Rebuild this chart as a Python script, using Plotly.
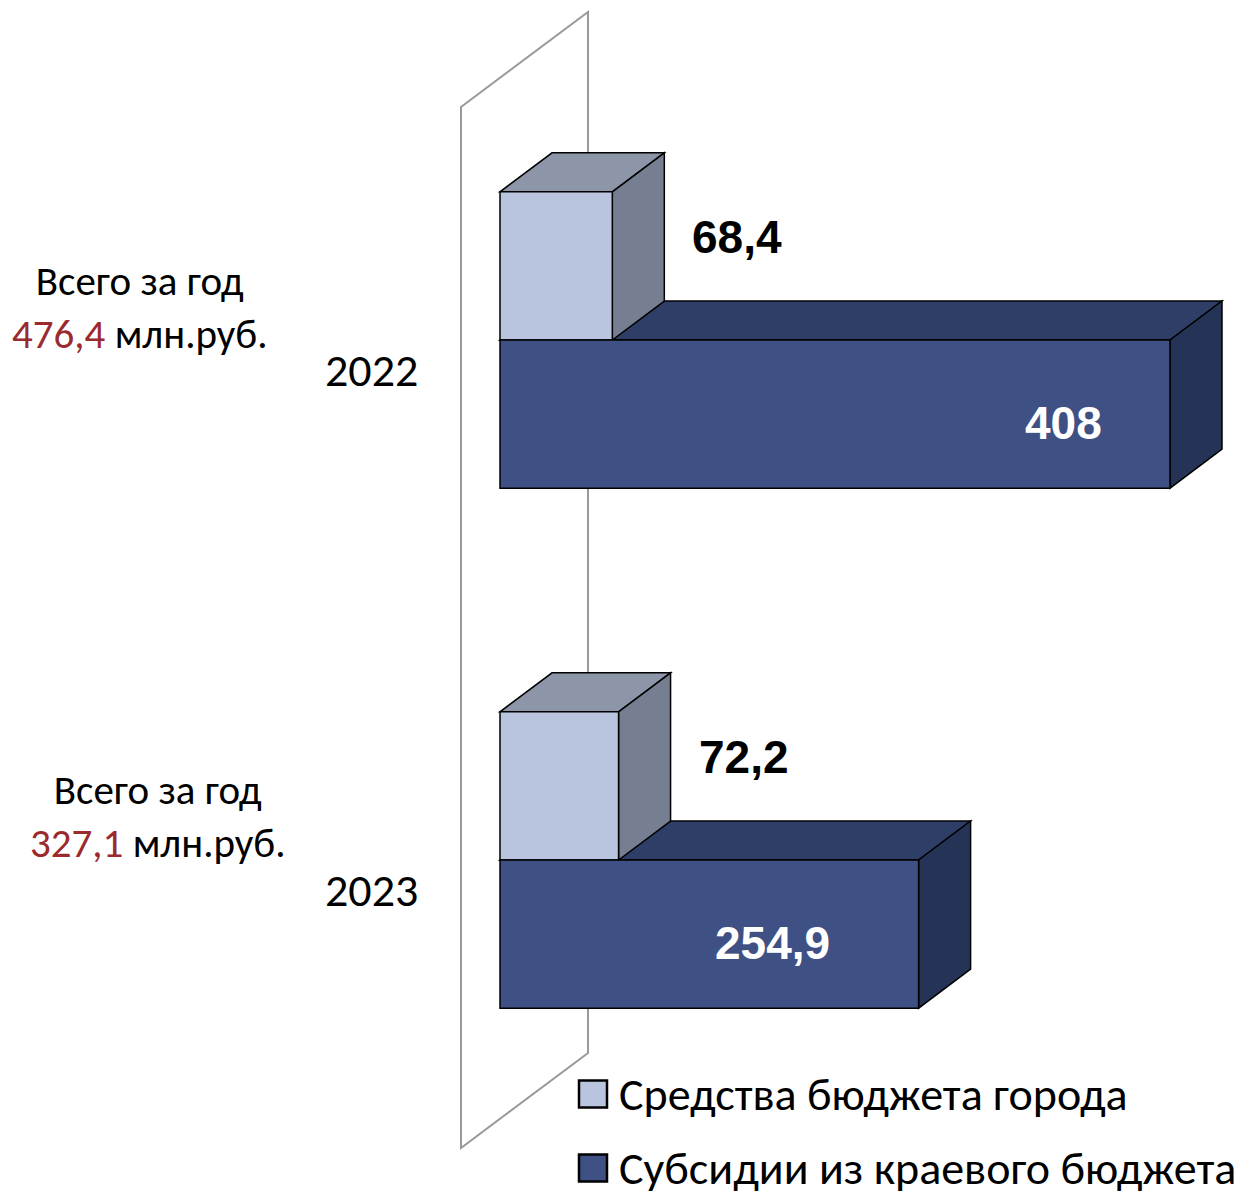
import plotly.graph_objects as go

# ---------------- data ----------------
YEARS = ["2022", "2023"]
CITY = [68.4, 72.2]          # Средства бюджета города
SUBSIDY = [408.0, 254.9]     # Субсидии из краевого бюджета
SERIES_NAMES = ["Средства бюджета города", "Субсидии из краевого бюджета"]
TOTAL_LINE1 = "Всего за год"
TOTAL_UNIT = "млн.руб."

# ---------------- styles ----------------
W, H = 1246, 1198
X0_PX = 500            # pixel of value 0
K = 670 / 408          # px per unit
Y0_PX = 340            # pixel of first category
CAT_PX = 520           # px between categories
BARGAP = 0.43
DEPTH_DX_PX, DEPTH_DY_PX = 52, 39

CITY_FRONT, CITY_TOP, CITY_SIDE = "#B9C4DF", "#8D96A9", "#767E92"
SUB_FRONT, SUB_TOP, SUB_SIDE = "#3E5084", "#2F3E67", "#253456"
RED = "#9B2A2E"
LABEL_FONT = "Liberation Sans, Arial, sans-serif"
TEXT_FONT = "Carlito, Calibri, Lato, sans-serif"

xr = [(0 - X0_PX) / K, (W - X0_PX) / K]
yr = [(H - Y0_PX) / CAT_PX, (0 - Y0_PX) / CAT_PX]   # reversed
dx = DEPTH_DX_PX / K
dy = -DEPTH_DY_PX / CAT_PX
bw = (1 - BARGAP) / 2
ypos = list(range(len(YEARS)))


def fmt(v):
    s = f"{v:.1f}"
    if s.endswith(".0"):
        s = s[:-2]
    return s.replace(".", ",")


def px2paper(px, py):
    return px / W, 1 - py / H


fig = go.Figure()
fig.add_trace(go.Bar(y=ypos, x=CITY, orientation="h", name=SERIES_NAMES[0],
                     marker=dict(color=CITY_FRONT, line=dict(color="black", width=1.5)),
                     hoverinfo="skip"))
fig.add_trace(go.Bar(y=ypos, x=SUBSIDY, orientation="h", name=SERIES_NAMES[1],
                     marker=dict(color=SUB_FRONT, line=dict(color="black", width=1.5)),
                     hoverinfo="skip"))

shapes = []
# back wall (decoration)
wall_pts = [(461, 107), (588, 12), (588, 1053), (461, 1148)]
pp = [px2paper(*p) for p in wall_pts]
shapes.append(dict(type="path", xref="paper", yref="paper", layer="below",
                   path="M{} {} L{} {} L{} {} L{} {} Z".format(*[c for p in pp for c in p]),
                   line=dict(color="#9A9A9A", width=2), fillcolor="rgba(0,0,0,0)"))


def box_faces(v, ytop, ybot, top_col, side_col):
    top = f"M0 {ytop} L{v} {ytop} L{v+dx} {ytop+dy} L{dx} {ytop+dy} Z"
    side = f"M{v} {ytop} L{v+dx} {ytop+dy} L{v+dx} {ybot+dy} L{v} {ybot} Z"
    return [
        dict(type="path", xref="x", yref="y", layer="below", path=top,
             fillcolor=top_col, line=dict(color="black", width=1.5)),
        dict(type="path", xref="x", yref="y", layer="below", path=side,
             fillcolor=side_col, line=dict(color="black", width=1.5)),
    ]


for i, y in enumerate(ypos):
    shapes += box_faces(SUBSIDY[i], y, y + bw, SUB_TOP, SUB_SIDE)
    shapes += box_faces(CITY[i], y - bw, y, CITY_TOP, CITY_SIDE)

annotations = []
SUB_LABEL_SHIFT = [-107, -146]
TOTAL_X_PX = [140, 158]
TOTAL_Y_SHIFT = [33, 44]
for i, y in enumerate(ypos):
    # city value label
    annotations.append(dict(x=CITY[i], y=y - bw / 2, xref="x", yref="y", text=fmt(CITY[i]),
                            showarrow=False, xanchor="left", xshift=78, yshift=29,
                            font=dict(family=LABEL_FONT, size=46, color="black", weight="bold")))
    # subsidy value label
    annotations.append(dict(x=SUBSIDY[i], y=y + bw / 2, xref="x", yref="y", text=fmt(SUBSIDY[i]),
                            showarrow=False, xanchor="center", xshift=SUB_LABEL_SHIFT[i], yshift=-9,
                            font=dict(family=LABEL_FONT, size=46, color="white", weight="bold")))
    # year label
    annotations.append(dict(x=(371 - X0_PX) / K, y=y, xref="x", yref="y", text=YEARS[i],
                            showarrow=False, xanchor="center", yshift=-30,
                            font=dict(family=TEXT_FONT, size=46, color="black")))
    # total
    total = CITY[i] + SUBSIDY[i]
    annotations.append(dict(x=(TOTAL_X_PX[i] - X0_PX) / K, y=y, xref="x", yref="y",
                            text=f"{TOTAL_LINE1}<br><span style='color:{RED}'>{fmt(total)}</span> {TOTAL_UNIT}",
                            showarrow=False, xanchor="center", yshift=TOTAL_Y_SHIFT[i],
                            font=dict(family=TEXT_FONT, size=41, color="black")))

# manual legend
LEG_ROWS_PX = [1094, 1168]
for j, (name, col) in enumerate(zip(SERIES_NAMES, [CITY_FRONT, SUB_FRONT])):
    cy = LEG_ROWS_PX[j]
    x0p, y0p = px2paper(579, cy - 13.5)
    x1p, y1p = px2paper(607, cy + 13.5)
    shapes.append(dict(type="rect", xref="paper", yref="paper", x0=x0p, x1=x1p, y0=y1p, y1=y0p,
                       fillcolor=col, line=dict(color="black", width=2.5), layer="above"))
    tx, ty = px2paper(617, cy)
    annotations.append(dict(x=tx, y=ty, xref="paper", yref="paper", text=name, showarrow=False,
                            xanchor="left", yanchor="middle",
                            font=dict(family=TEXT_FONT, size=46, color="black")))

fig.update_layout(
    width=W, height=H, autosize=False,
    margin=dict(l=0, r=0, t=0, b=0, pad=0),
    paper_bgcolor="white", plot_bgcolor="white",
    barmode="group", bargap=BARGAP, bargroupgap=0,
    showlegend=False,
    xaxis=dict(range=xr, visible=False, fixedrange=True),
    yaxis=dict(range=yr, visible=False, fixedrange=True),
    shapes=shapes, annotations=annotations,
)

fig.write_html("out.html", config={"displayModeBar": False},
               post_script="document.body.style.margin='0';document.body.style.overflow='hidden';")
